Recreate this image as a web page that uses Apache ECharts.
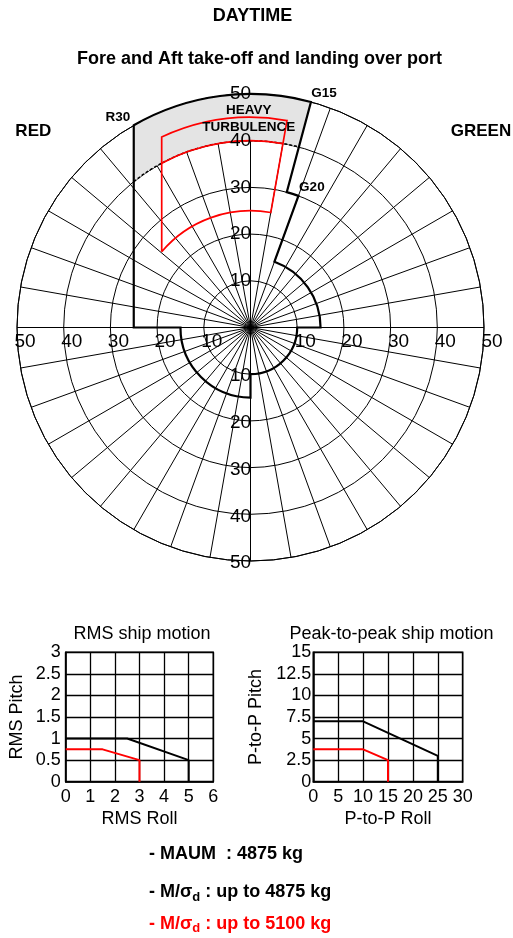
<!DOCTYPE html>
<html>
<head>
<meta charset="utf-8">
<script src="https://cdn.jsdelivr.net/npm/echarts@6/dist/echarts.min.js"></script>
<style>
  html, body { margin: 0; padding: 0; background: #fff; }
  #main { width: 513px; height: 938px; }
</style>
</head>
<body>
<div id="main"></div>
<script>
// polar envelope: [wind speed (kt), relative wind angle (deg, port negative)]
const radiusTicks = [10, 20, 30, 40, 50];
const tickDirections = [0, 90, 180, 270];
const envelopeBlack = [[25, -90], [50, -30], [50, 15], [30, 15], [30, 20], [15, 20], [15, 90],
  [10, 90], [10, 180], [15, 180], [15, 270]];
const turbulenceBand = [[40, -38.7], [50, -30], [50, 15], [40, 15]];
const turbulenceEdge = [[40, -38.7], [40, 15]];
const envelopeRed = [[25, -49.5], [45, -25], [45, 10], [25, 10]];
const turbulenceEdgeRed = [[40, -28.4], [40, 10]];
const polarNotes = [
  {name: 'R30', value: [53.3, -32.2]},
  {name: 'G15', value: [52.6, 17.4]},
  {name: 'G20', value: [32.7, 23.7]},
  {name: 'HEAVY\nTURBULENCE', value: [44.7, -0.5]}
];

// ship motion limits
const rmsBlack = [[0, 1], [2.5, 1], [5, 0.5], [5, 0]];
const rmsRed = [[0, 0.75], [1.5, 0.75], [3, 0.5], [3, 0]];
const p2pBlack = [[0, 7], [10, 7], [25, 3], [25, 0]];
const p2pRed = [[0, 3.75], [10, 3.75], [15, 2.5], [15, 0]];

const FONT = '"Liberation Sans", Arial, Helvetica, sans-serif';
const chart = echarts.init(document.getElementById('main'));

function norm(a) {
  return ((a % 360) + 360) % 360;
}

// straight segments between points of different radius, arcs between points of equal radius
function polarPath(api, pts, closed) {
  const c = api.coord([0, 0]);
  const P = pts.map(p => api.coord([p[0], norm(p[1])]));
  let d = 'M' + P[0][0] + ' ' + P[0][1];
  const n = closed ? pts.length : pts.length - 1;
  for (let i = 0; i < n; i++) {
    const j = (i + 1) % pts.length;
    const a = pts[i], b = pts[j];
    if (a[0] === b[0]) {
      const R = Math.hypot(P[j][0] - c[0], P[j][1] - c[1]);
      const sweep = b[1] > a[1] ? 1 : 0;
      const large = Math.abs(b[1] - a[1]) > 180 ? 1 : 0;
      d += ' A' + R + ' ' + R + ' 0 ' + large + ' ' + sweep + ' ' + P[j][0] + ' ' + P[j][1];
    } else {
      d += ' L' + P[j][0] + ' ' + P[j][1];
    }
  }
  if (closed) d += ' Z';
  return d;
}

function shapeSeries(pts, closed, style) {
  return {
    type: 'custom',
    coordinateSystem: 'polar',
    silent: true,
    clip: false,
    data: [[0, 0]],
    renderItem: function(params, api) {
      return {
        type: 'path',
        shape: {pathData: polarPath(api, pts, closed)},
        style: style
      };
    }
  };
}

const tickOffsets = {0: [-10, 0], 90: [8, 14], 180: [-10, 2], 270: [8, 14]};
const tickData = [];
tickDirections.forEach(dir => {
  radiusTicks.forEach(r => {
    tickData.push({value: [r, dir], label: {offset: tickOffsets[dir]}});
  });
});

function motionAxisX(idx, max, step, name) {
  return {
    gridIndex: idx, type: 'value', min: 0, max: max, interval: step,
    name: name, nameLocation: 'middle', nameGap: 28,
    nameTextStyle: {fontSize: 18, color: '#000', fontFamily: FONT},
    axisLine: {lineStyle: {color: '#000', width: 1.5}},
    axisTick: {show: false},
    axisLabel: {fontSize: 18, color: '#000', margin: 6, fontFamily: FONT},
    splitLine: {show: true, lineStyle: {color: '#000', width: 1.3}}
  };
}

function motionAxisY(idx, max, step, name, gap, margin) {
  return {
    gridIndex: idx, type: 'value', min: 0, max: max, interval: step,
    name: name, nameLocation: 'middle', nameGap: gap,
    nameTextStyle: {fontSize: 18, color: '#000', fontFamily: FONT},
    axisLine: {lineStyle: {color: '#000', width: 1.5}},
    axisTick: {show: false},
    axisLabel: {fontSize: 18, color: '#000', margin: margin, fontFamily: FONT},
    splitLine: {show: true, lineStyle: {color: '#000', width: 1.3}}
  };
}

function limitLine(idx, data, color) {
  return {
    type: 'line', xAxisIndex: idx, yAxisIndex: idx, data: data,
    symbol: 'none', silent: true, animation: false,
    lineStyle: {color: color, width: 2}
  };
}

function label(text, x, y, size, weight, align) {
  return {
    type: 'text', x: x, y: y, silent: true,
    style: {text: text, font: (weight || 'bold') + ' ' + size + 'px ' + FONT, fill: '#000',
      align: align || 'center', verticalAlign: 'middle'}
  };
}

function massLine(text, y, color) {
  return {
    type: 'text', x: 149, y: y, silent: true,
    style: {
      text: text, fill: color, align: 'left', verticalAlign: 'middle',
      rich: {
        a: {fontSize: 18, fontWeight: 'bold', fontFamily: FONT, color: color, lineHeight: 22, verticalAlign: 'middle'},
        s: {fontSize: 13, fontWeight: 'bold', fontFamily: FONT, color: color, lineHeight: 22, verticalAlign: 'bottom'}
      }
    }
  };
}

const option = {
  animation: false,
  textStyle: {fontFamily: FONT},
  polar: {center: [250.5, 327.5], radius: 233.5},
  angleAxis: {
    type: 'value', min: 0, max: 360, interval: 10, startAngle: 90, clockwise: true,
    axisLine: {lineStyle: {color: '#000', width: 1}},
    axisTick: {show: false},
    axisLabel: {show: false},
    splitLine: {show: true, lineStyle: {color: '#000', width: 1}}
  },
  radiusAxis: {
    type: 'value', min: 0, max: 50, interval: 10,
    axisLine: {show: false}, axisTick: {show: false}, axisLabel: {show: false},
    splitLine: {show: true, lineStyle: {color: '#000', width: 1}}
  },
  grid: [
    {left: 65.7, top: 652.3, width: 147.6, height: 129.4, show: true, borderColor: '#000', borderWidth: 1.5},
    {left: 313.3, top: 652.3, width: 149.4, height: 129.4, show: true, borderColor: '#000', borderWidth: 1.5}
  ],
  xAxis: [
    motionAxisX(0, 6, 1, 'RMS Roll'),
    motionAxisX(1, 30, 5, 'P-to-P Roll')
  ],
  yAxis: [
    motionAxisY(0, 3, 0.5, 'RMS Pitch', 40, 5),
    motionAxisY(1, 15, 2.5, 'P-to-P Pitch', 48, 2)
  ],
  graphic: [
    label('DAYTIME', 252.5, 16, 18),
    label('Fore and Aft take-off and landing over port', 259.5, 59, 18),
    label('RED', 33.3, 131, 17),
    label('GREEN', 481, 131, 17),
    label('RMS ship motion', 142, 634, 18, 'normal'),
    label('Peak-to-peak ship motion', 391.5, 634, 18, 'normal'),
    label('- MAUM  : 4875 kg', 149, 854.5, 18, 'bold', 'left'),
    massLine('{a|- M/σ}{s|d}{a| : up to 4875 kg}', 892.5, '#000'),
    massLine('{a|- M/σ}{s|d}{a| : up to 5100 kg}', 924, '#ff0000')
  ],
  series: [
    {
      type: 'scatter', coordinateSystem: 'polar', silent: true, clip: false,
      symbolSize: 1, itemStyle: {color: 'rgba(0,0,0,0)', opacity: 1},
      data: tickData,
      label: {show: true, position: 'inside', formatter: p => p.value[0],
        fontSize: 19, color: '#000', opacity: 1, fontFamily: FONT}
    },
    shapeSeries(turbulenceBand, true, {fill: '#e4e4e4', stroke: null}),
    shapeSeries(turbulenceEdge, false, {fill: 'none', stroke: '#000', lineWidth: 1.5, lineDash: [3, 2]}),
    shapeSeries(envelopeBlack, true, {fill: 'none', stroke: '#000', lineWidth: 2.2}),
    shapeSeries(envelopeRed, true, {fill: 'none', stroke: '#ff0000', lineWidth: 1.7}),
    shapeSeries(turbulenceEdgeRed, false, {fill: 'none', stroke: '#ff0000', lineWidth: 1.7}),
    {
      type: 'scatter', coordinateSystem: 'polar', silent: true, clip: false,
      symbolSize: 1, itemStyle: {color: 'rgba(0,0,0,0)', opacity: 1},
      data: polarNotes.map(n => ({name: n.name, value: [n.value[0], norm(n.value[1])]})),
      label: {show: true, position: 'inside', formatter: p => p.name, opacity: 1,
        fontSize: 13.5, fontWeight: 'bold', color: '#000', lineHeight: 17, fontFamily: FONT}
    },
    limitLine(0, rmsBlack, '#000'),
    limitLine(0, rmsRed, '#ff0000'),
    limitLine(1, p2pBlack, '#000'),
    limitLine(1, p2pRed, '#ff0000')
  ]
};

chart.setOption(option);
</script>
</body>
</html>
